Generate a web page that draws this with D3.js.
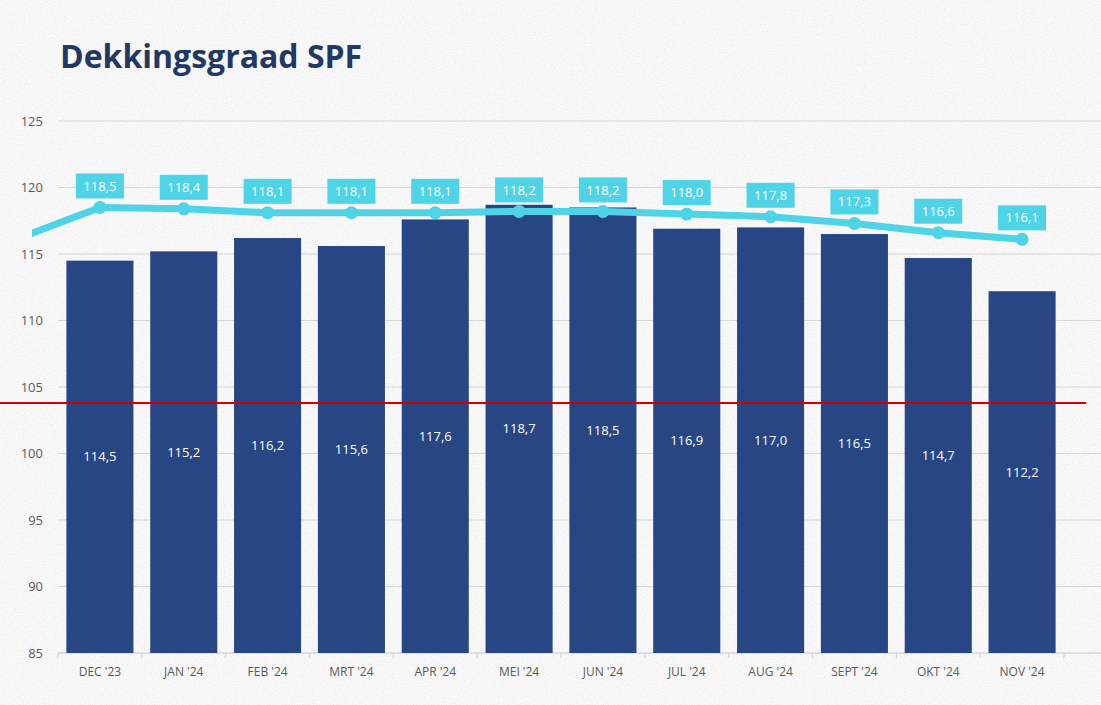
<!DOCTYPE html>
<html>
<head>
<meta charset="utf-8">
<script src="https://cdn.jsdelivr.net/npm/d3@7"></script>
<style>
  html, body { margin: 0; padding: 0; background: #f8f8f8; }
  svg { display: block; }
  text { font-family: "Open Sans", "Noto Sans", sans-serif; }
</style>
</head>
<body>
<svg id="chart" width="1101" height="705"></svg>
<script>
const categories = ["DEC '23", "JAN '24", "FEB '24", "MRT '24", "APR '24", "MEI '24", "JUN '24", "JUL '24", "AUG '24", "SEPT '24", "OKT '24", "NOV '24"];
const barValues = [114.5, 115.2, 116.2, 115.6, 117.6, 118.7, 118.5, 116.9, 117.0, 116.5, 114.7, 112.2];
const lineValues = [118.5, 118.4, 118.1, 118.1, 118.1, 118.2, 118.2, 118.0, 117.8, 117.3, 116.6, 116.1];
const previousLineValue = 116.1; // NOV '23, partly visible at the left edge
const thresholdValue = 103.8;
const yTicks = [85, 90, 95, 100, 105, 110, 115, 120, 125];
const title = "Dekkingsgraad SPF";

const fmt = v => v.toFixed(1).replace(".", ",");

const W = 1101, H = 705;
const svg = d3.select("#chart");

// background with subtle speckle
const defs = svg.append("defs");
const f = defs.append("filter").attr("id", "noise").attr("x", 0).attr("y", 0).attr("width", "100%").attr("height", "100%");
f.append("feTurbulence").attr("type", "fractalNoise").attr("baseFrequency", 0.9).attr("numOctaves", 1).attr("seed", 3).attr("result", "t");
f.append("feColorMatrix").attr("in", "t").attr("type", "matrix")
  .attr("values", "0 0 0 0 0.6  0 0 0 0 0.6  0 0 0 0 0.6  0 0 0 -2.2 1.25");
f.append("feComposite").attr("in2", "SourceGraphic").attr("operator", "in");

svg.append("rect").attr("width", W).attr("height", H).attr("fill", "#fafafa");
svg.append("rect").attr("width", W).attr("height", H).attr("fill", "#fff").attr("filter", "url(#noise)").attr("opacity", 0.35);

const x = d3.scaleBand().domain(categories).range([58, 1064]).paddingInner(0.2).paddingOuter(0.1);
const y = d3.scaleLinear().domain([85, 125]).range([653, 121]);

// title
svg.append("text").attr("x", 60).attr("y", 68).attr("fill", "#1f3864")
  .attr("font-size", 32).attr("font-weight", 700).text(title);

// gridlines
svg.append("g").selectAll("line").data(yTicks).join("line")
  .attr("x1", 58).attr("x2", W).attr("y1", d => y(d)).attr("y2", d => y(d))
  .attr("stroke", "#d6d6d6").attr("stroke-width", 1);

// y axis labels
svg.append("g").selectAll("text").data(yTicks).join("text")
  .attr("x", 43).attr("y", d => y(d)).attr("dy", "0.35em").attr("text-anchor", "end")
  .attr("fill", "#595959").attr("font-size", 13).text(d => d);

// x axis
const xAxis = d3.axisBottom(x).tickSize(0).tickPadding(14);
const gx = svg.append("g").attr("transform", `translate(0,${y(85)})`).call(xAxis);
gx.select(".domain").remove();
gx.selectAll("text").attr("fill", "#595959").attr("font-size", 12)
  .style("font-family", '"Open Sans", "Noto Sans", sans-serif');
svg.append("line").attr("x1", 58).attr("x2", W).attr("y1", y(85)).attr("y2", y(85)).attr("stroke", "#d6d6d6");
const step = x.step();
const tickXs = d3.range(categories.length + 1).map(i => x(categories[0]) - x.paddingOuter() * step + i * step);
svg.append("g").selectAll("line").data(tickXs).join("line")
  .attr("x1", d => d).attr("x2", d => d).attr("y1", y(85)).attr("y2", y(85) + 5)
  .attr("stroke", "#d6d6d6");

// bars
svg.append("g").selectAll("rect").data(barValues).join("rect")
  .attr("x", (d, i) => x(categories[i])).attr("width", x.bandwidth())
  .attr("y", d => y(d)).attr("height", d => y(85) - y(d))
  .attr("fill", "#284683");

// bar labels
svg.append("g").selectAll("text").data(barValues).join("text")
  .attr("x", (d, i) => x(categories[i]) + x.bandwidth() / 2)
  .attr("y", d => (y(d) + y(85)) / 2).attr("dy", "0.35em")
  .attr("text-anchor", "middle").attr("fill", "#fff").attr("font-size", 13).text(fmt);

// threshold line
svg.append("line").attr("x1", 0).attr("x2", 1086).attr("y1", y(thresholdValue)).attr("y2", y(thresholdValue))
  .attr("stroke", "#d00000").attr("stroke-width", 2);

// line series
const cx = i => x(categories[i]) + x.bandwidth() / 2;
const pts = [[cx(0) - step, y(previousLineValue)]].concat(lineValues.map((v, i) => [cx(i), y(v)]));
defs.append("clipPath").attr("id", "lineclip").append("rect").attr("x", 32).attr("y", 0).attr("width", W).attr("height", H);
svg.append("path").attr("d", d3.line()(pts)).attr("fill", "none")
  .attr("stroke", "#4fd3e6").attr("stroke-width", 7).attr("stroke-linejoin", "round")
  .attr("clip-path", "url(#lineclip)");
svg.append("g").selectAll("circle").data(lineValues).join("circle")
  .attr("cx", (d, i) => cx(i)).attr("cy", d => y(d)).attr("r", 6.5).attr("fill", "#4fd3e6");

// line labels
const lg = svg.append("g").selectAll("g").data(lineValues).join("g")
  .attr("transform", (d, i) => `translate(${cx(i)},${y(d) - 21.5})`);
lg.append("rect").attr("x", -24).attr("y", -12.5).attr("width", 48).attr("height", 25).attr("fill", "#4fd3e6");
lg.append("text").attr("text-anchor", "middle").attr("dy", "0.35em").attr("fill", "#fff")
  .attr("font-size", 13).text(fmt);
</script>
</body>
</html>
